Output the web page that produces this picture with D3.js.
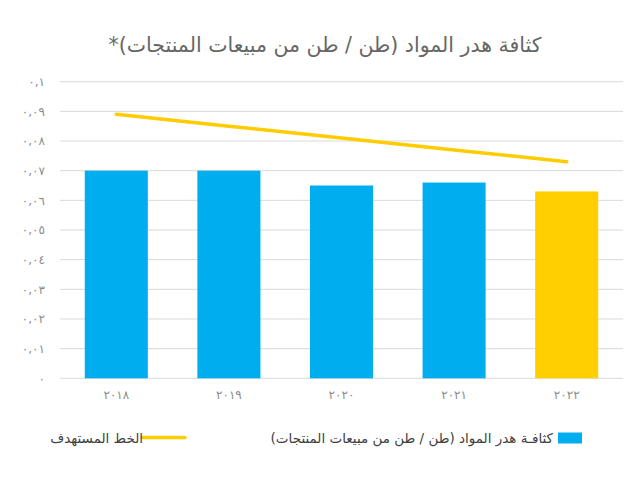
<!DOCTYPE html>
<html lang="ar">
<head>
<meta charset="utf-8">
<script src="https://cdn.jsdelivr.net/npm/d3@7"></script>
<style>
  body { margin: 0; background: #fff; }
  text { font-family: "DejaVu Sans", "Noto Sans", sans-serif; }
</style>
</head>
<body>
<div id="chart"></div>
<script>
const years = ["2018", "2019", "2020", "2021", "2022"];
const yearLabels = ["٢٠١٨", "٢٠١٩", "٢٠٢٠", "٢٠٢١", "٢٠٢٢"];
const wasteValues = [0.070, 0.070, 0.065, 0.066, 0.063];
const targetValues = [0.089, 0.085, 0.081, 0.077, 0.073];
const yTicks = [0, 0.01, 0.02, 0.03, 0.04, 0.05, 0.06, 0.07, 0.08, 0.09, 0.1];
const yTickLabels = ["٠", "٠,٠١", "٠,٠٢", "٠,٠٣", "٠,٠٤", "٠,٠٥", "٠,٠٦", "٠,٠٧", "٠,٠٨", "٠,٠٩", "٠,١"];

const title = "كثافة هدر المواد (طن / طن من مبيعات المنتجات)*";
const barLegend = "كثافـة هدر المواد (طن / طن من مبيعات المنتجات)";
const lineLegend = "الخط المستهدف";

const width = 640;
const height = 480;
const plot = { left: 60, right: 623, top: 81.7, bottom: 378.3 };

const svg = d3.select('#chart').append('svg')
  .attr('width', width)
  .attr('height', height);

const x = d3.scaleBand()
  .domain(years)
  .range([plot.left, plot.right])
  .paddingInner(0.44)
  .paddingOuter(0.22);

const y = d3.scaleLinear()
  .domain([0, 0.1])
  .range([plot.bottom, plot.top]);

// gridlines + y labels
svg.append('g')
  .selectAll('line')
  .data(yTicks)
  .join('line')
    .attr('x1', plot.left)
    .attr('x2', plot.right)
    .attr('y1', d => y(d))
    .attr('y2', d => y(d))
    .attr('stroke', '#d9d9d9')
    .attr('stroke-width', 1);

svg.append('g')
  .selectAll('text')
  .data(yTicks)
  .join('text')
    .attr('x', 45)
    .attr('y', d => y(d))
    .attr('dy', '0.35em')
    .attr('text-anchor', 'end')
    .attr('fill', '#8c8c8c')
    .attr('font-size', 12)
    .text((d, i) => yTickLabels[i]);

// bars
svg.append('g')
  .selectAll('rect')
  .data(wasteValues)
  .join('rect')
    .attr('x', (d, i) => x(years[i]))
    .attr('y', d => y(d))
    .attr('width', x.bandwidth())
    .attr('height', d => y(0) - y(d))
    .attr('fill', (d, i) => i === years.length - 1 ? '#FFCF01' : '#00AEEF');

// target line
const line = d3.line()
  .x((d, i) => x(years[i]) + x.bandwidth() / 2)
  .y(d => y(d));

svg.append('path')
  .datum(targetValues)
  .attr('d', line)
  .attr('fill', 'none')
  .attr('stroke', '#FFCC00')
  .attr('stroke-width', 3.5)
  .attr('stroke-linecap', 'round');

// x labels
svg.append('g')
  .selectAll('text')
  .data(yearLabels)
  .join('text')
    .attr('x', (d, i) => x(years[i]) + x.bandwidth() / 2)
    .attr('y', 399)
    .attr('text-anchor', 'middle')
    .attr('fill', '#8c8c8c')
    .attr('font-size', 12)
    .text(d => d);

// title
svg.append('text')
  .attr('x', 325)
  .attr('y', 52)
  .attr('text-anchor', 'middle')
  .attr('direction', 'rtl')
  .attr('fill', '#666666')
  .attr('font-size', 20.5)
  .text(title);

// legend
svg.append('rect')
  .attr('x', 558)
  .attr('y', 432.5)
  .attr('width', 24)
  .attr('height', 11)
  .attr('fill', '#00AEEF');

svg.append('text')
  .attr('x', 553)
  .attr('y', 438)
  .attr('dy', '0.35em')
  .attr('direction', 'rtl')
  .attr('text-anchor', 'start')
  .attr('fill', '#404040')
  .attr('font-size', 13.5)
  .text(barLegend);

svg.append('line')
  .attr('x1', 143)
  .attr('x2', 185)
  .attr('y1', 437.5)
  .attr('y2', 437.5)
  .attr('stroke', '#FFCC00')
  .attr('stroke-width', 3.5)
  .attr('stroke-linecap', 'round');

svg.append('text')
  .attr('x', 143)
  .attr('y', 438)
  .attr('dy', '0.35em')
  .attr('direction', 'rtl')
  .attr('text-anchor', 'start')
  .attr('fill', '#404040')
  .attr('font-size', 13.5)
  .text(lineLegend);
</script>
</body>
</html>
